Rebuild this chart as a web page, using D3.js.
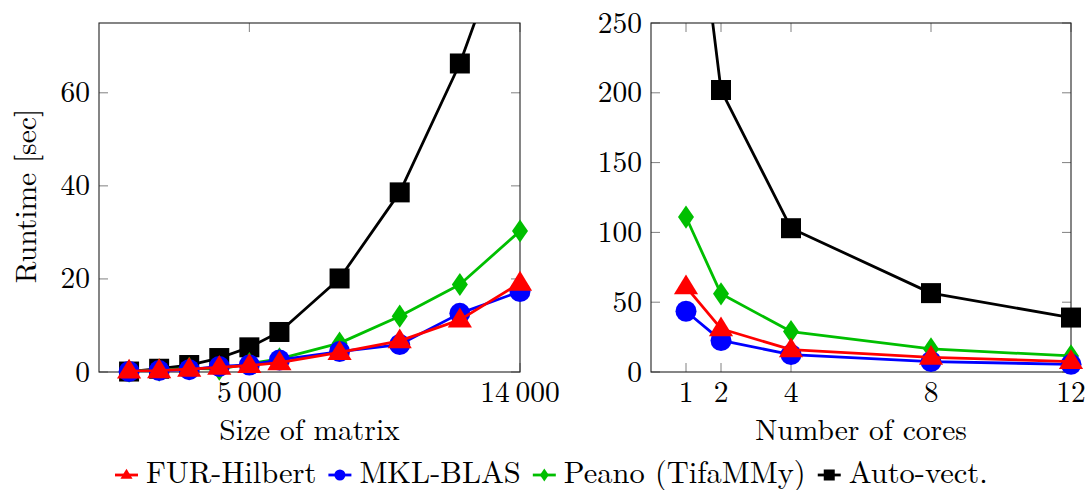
<!DOCTYPE html>
<html>
<head>
<meta charset="utf-8">
<script src="https://cdn.jsdelivr.net/npm/d3@7"></script>
</head>
<body style="margin:0; background:#fff">
<script>
// data
var sizes = [1000, 2000, 3000, 4000, 5000, 6000, 8000, 10000, 12000, 14000];
var furSize  = [0.2, 0.3, 0.6, 1.0, 1.4, 2.0, 4.2, 6.7, 11.2, 19.1];
var mklSize  = [0.1, 0.3, 0.5, 1.2, 1.5, 2.6, 4.4, 5.9, 12.6, 17.3];
var peanoSize = [0.2, 0.4, 0.8, 0.6, 1.8, 2.8, 6.2, 12.0, 18.8, 30.3];
var autoSize = [0.1, 0.7, 1.5, 3.0, 5.3, 8.6, 20.1, 38.6, 66.3, 102];

var cores = [1, 2, 4, 8, 12];
var furCores  = [61, 31, 16, 10.5, 7.5];
var mklCores  = [43.5, 22.6, 12.5, 7.5, 5.5];
var peanoCores = [111, 56, 29, 16.5, 11.5];
var autoCores = [405, 202, 103, 56.5, 39];

var seriesNames = ['FUR-Hilbert', 'MKL-BLAS', 'Peano (TifaMMy)', 'Auto-vect.'];
var seriesColors = ['#ff0000', '#0000ff', '#00bf00', '#000000'];
var seriesShapes = ['triangle', 'circle', 'diamond', 'square'];

var leftXTicks = [5000, 14000];
var leftYTicks = [0, 20, 40, 60];
var rightXTicks = [1, 2, 4, 8, 12];
var rightYTicks = [0, 50, 100, 150, 200, 250];

var W = 1086, H = 490;
var svg = d3.select('body').append('svg').attr('width', W).attr('height', H)
  .attr('font-family', "'Latin Modern Roman', 'Liberation Serif', serif")
  .attr('font-size', 29.5);

var fmtThin = function(d) {
  var s = String(d);
  if (s.length > 3) s = s.slice(0, s.length - 3) + '\u2009' + s.slice(s.length - 3);
  return s;
};

var marker = function(g, shape, color, cx, cy, s) {
  if (shape === 'circle') {
    g.append('circle').attr('cx', cx).attr('cy', cy).attr('r', s * 0.5).attr('fill', color);
  } else if (shape === 'square') {
    g.append('rect').attr('x', cx - s * 0.5).attr('y', cy - s * 0.5)
      .attr('width', s).attr('height', s).attr('fill', color);
  } else if (shape === 'triangle') {
    var h = s * 0.9;
    g.append('path').attr('d', 'M' + cx + ',' + (cy - h * 0.62) + 'L' + (cx + s * 0.55) + ',' + (cy + h * 0.38) +
      'L' + (cx - s * 0.55) + ',' + (cy + h * 0.38) + 'Z').attr('fill', color);
  } else if (shape === 'diamond') {
    g.append('path').attr('d', 'M' + cx + ',' + (cy - s * 0.58) + 'L' + (cx + s * 0.4) + ',' + cy +
      'L' + cx + ',' + (cy + s * 0.58) + 'L' + (cx - s * 0.4) + ',' + cy + 'Z').attr('fill', color);
  }
};

var drawPanel = function(opt) {
  var x = d3.scaleLinear().domain(opt.xDomain).range([opt.left, opt.right]);
  var y = d3.scaleLinear().domain(opt.yDomain).range([opt.bottom, opt.top]);
  var g = svg.append('g');

  var clipId = 'clip' + opt.id;
  svg.append('clipPath').attr('id', clipId).append('rect')
    .attr('x', opt.left).attr('y', opt.top)
    .attr('width', opt.right - opt.left).attr('height', opt.bottom - opt.top);

  // ticks (inside, mirrored)
  var tl = 9;
  opt.xTicks.forEach(function(t) {
    g.append('line').attr('x1', x(t)).attr('x2', x(t)).attr('y1', opt.bottom).attr('y2', opt.bottom - tl)
      .attr('stroke', '#808080').attr('stroke-width', 1);
    g.append('line').attr('x1', x(t)).attr('x2', x(t)).attr('y1', opt.top).attr('y2', opt.top + tl)
      .attr('stroke', '#808080').attr('stroke-width', 1);
    g.append('text').attr('x', x(t)).attr('y', opt.bottom + 30).attr('text-anchor', 'middle')
      .text(opt.xFmt(t));
  });
  opt.yTicks.forEach(function(t) {
    g.append('line').attr('x1', opt.left).attr('x2', opt.left + tl).attr('y1', y(t)).attr('y2', y(t))
      .attr('stroke', '#808080').attr('stroke-width', 1);
    g.append('line').attr('x1', opt.right).attr('x2', opt.right - tl).attr('y1', y(t)).attr('y2', y(t))
      .attr('stroke', '#808080').attr('stroke-width', 1);
    g.append('text').attr('x', opt.left - 9).attr('y', y(t) + 9.5).attr('text-anchor', 'end')
      .text(t);
  });

  g.append('rect').attr('x', opt.left).attr('y', opt.top)
    .attr('width', opt.right - opt.left).attr('height', opt.bottom - opt.top)
    .attr('fill', 'none').attr('stroke', '#222').attr('stroke-width', 1.1);

  // series: drawn last to first so red ends on top
  var line = d3.line().x(function(d) { return x(d[0]); }).y(function(d) { return y(d[1]); });
  for (var k = opt.series.length - 1; k >= 0; k--) {
    var pts = opt.xs.map(function(v, i) { return [v, opt.series[k][i]]; });
    g.append('path').datum(pts).attr('d', line).attr('fill', 'none')
      .attr('stroke', seriesColors[k]).attr('stroke-width', 2.8)
      .attr('stroke-linejoin', 'round').attr('clip-path', 'url(#' + clipId + ')');
    var sz = { triangle: 22, circle: 21, diamond: 20, square: 20 }[seriesShapes[k]];
    pts.forEach(function(p) {
      if (p[1] <= opt.yDomain[1]) marker(g, seriesShapes[k], seriesColors[k], x(p[0]), y(p[1]), sz);
    });
  }

  g.append('text').attr('x', (opt.left + opt.right) / 2).attr('y', 440).attr('text-anchor', 'middle')
    .text(opt.xLabel);
};

drawPanel({
  id: 'L', left: 99, right: 520, top: 23, bottom: 372,
  xDomain: [0, 14000], yDomain: [0, 75],
  xTicks: leftXTicks, yTicks: leftYTicks, xFmt: fmtThin,
  xs: sizes, series: [furSize, mklSize, peanoSize, autoSize],
  xLabel: 'Size of matrix'
});

drawPanel({
  id: 'R', left: 651, right: 1071, top: 23, bottom: 372,
  xDomain: [0, 12], yDomain: [0, 250],
  xTicks: rightXTicks, yTicks: rightYTicks, xFmt: String,
  xs: cores, series: [furCores, mklCores, peanoCores, autoCores],
  xLabel: 'Number of cores'
});

// y label
svg.append('text').attr('transform', 'translate(36,196) rotate(-90)').attr('text-anchor', 'middle')
  .text('Runtime [sec]');

// legend
var lg = svg.append('g').attr('font-size', 30.5);
var lx = 115, ly = 475;
seriesNames.forEach(function(name, i) {
  lg.append('line').attr('x1', lx).attr('x2', lx + 23).attr('y1', ly).attr('y2', ly)
    .attr('stroke', seriesColors[i]).attr('stroke-width', 2.8);
  marker(lg, seriesShapes[i], seriesColors[i], lx + 11.5, ly, 11);
  var t = lg.append('text').attr('x', lx + 31).attr('y', 483).text(name);
  lx += 31 + t.node().getComputedTextLength() + 12;
});
</script>
</body>
</html>
